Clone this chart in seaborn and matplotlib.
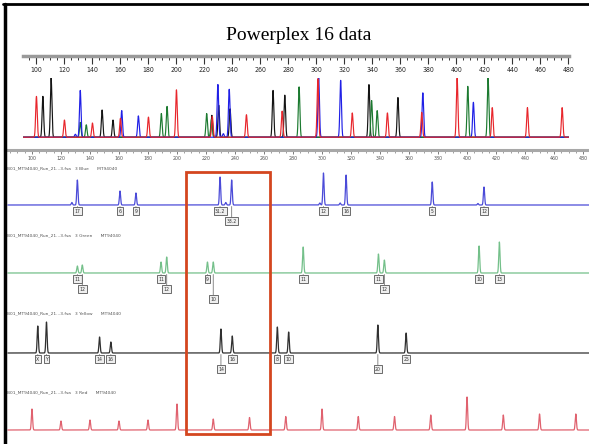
import numpy as np
import pandas as pd
import matplotlib
matplotlib.use("Agg")
import matplotlib.pyplot as plt
import seaborn as sns
from matplotlib.patches import Rectangle
from matplotlib.lines import Line2D
from matplotlib.ticker import MultipleLocator

sns.set_theme(style="white")
plt.rcParams['font.family'] = ['DejaVu Sans']

# ---------------- data ----------------
title = "Powerplex 16 data"
ruler_labels = list(range(100, 481, 20))

# top overlay panel (relative heights)
top_red_bp = [100, 120, 140, 160, 180, 200, 225.6, 250, 275.5, 301, 325.6, 350.7, 375.2, 400.5, 425.6, 450.7, 475.5]
top_red_h = [0.69, 0.29, 0.24, 0.32, 0.34, 0.80, 0.35, 0.38, 0.44, 0.99, 0.41, 0.41, 0.42, 1.0, 0.50, 0.50, 0.50]
top_black_bp = [104.6, 110.5, 146.9, 154.7, 225.3, 230.2, 238.3, 269.0, 277.4, 337.5, 358.2]
top_black_h = [0.69, 1.0, 0.46, 0.29, 0.37, 0.54, 0.48, 0.79, 0.71, 0.89, 0.67]
top_blue_bp = [127.8, 131.3, 160.9, 172.8, 229.6, 233.5, 237.7, 301.6, 317.3, 376.0, 412.1]
top_blue_h = [0.05, 0.79, 0.45, 0.36, 0.89, 0.06, 0.81, 1.0, 0.96, 0.75, 0.59]
top_green_bp = [131.3, 135.6, 189.2, 193.3, 221.6, 225.0, 287.6, 339.4, 343.4, 408.1, 422.6]
top_green_h = [0.25, 0.21, 0.40, 0.52, 0.40, 0.30, 0.85, 0.62, 0.45, 0.86, 1.0]

# bottom per-dye panels (heights in display units)
channel_names = ["Blue", "Green", "Yellow", "Red"]
sample_name = "B01_MT94040_Run_21...3.fsa"
sample_id = "MT94040"

blue_bp = [127.5, 131.3, 160.7, 171.7, 229.7, 233.6, 237.7, 298.5, 301.0, 312.5, 316.6, 376.0, 407.5, 411.7]
blue_h = [2.5, 25, 14, 12, 28, 2.5, 25, 2, 32, 2, 30, 23, 1.5, 18]
blue_allele_bp = [131.3, 160.7, 171.7, 229.7, 237.7, 301.0, 316.6, 376.0, 411.7]
blue_alleles = ["17", "6", "9", "31.2", "33.2", "12", "16", "5", "12"]
blue_rows = [0, 0, 0, 0, 1, 0, 0, 0, 0]

green_bp = [131.3, 134.7, 189.0, 192.9, 221.0, 225.0, 287.0, 338.9, 343.0, 408.3, 422.3]
green_h = [7, 8, 11, 16, 11, 11, 26, 19, 13, 27, 31]
green_allele_bp = green_bp
green_alleles = ["11", "12", "11", "12", "9", "10", "11", "11", "12", "10", "13"]
green_rows = [0, 1, 0, 1, 0, 2, 0, 0, 1, 0, 0]

black_bp = [104.0, 110.0, 146.6, 154.4, 230.3, 238.1, 269.2, 277.0, 338.5, 358.0]
black_h = [27, 31, 16, 11, 24, 17, 26, 21, 28, 20]
black_allele_bp = black_bp
black_alleles = ["X", "Y", "14", "16", "14", "16", "8", "10", "20", "25"]
black_rows = [0, 0, 0, 0, 1, 0, 0, 0, 1, 0]

red_bp = [100, 120, 140, 160, 180, 200, 225, 250, 275, 300, 325, 350, 375, 400, 425, 450, 475]
red_h = [21, 9, 10, 9, 10, 26, 11, 12.5, 13.5, 21, 13.5, 13.5, 15, 33, 15, 16, 16]

# ---------------- layout helpers ----------------
W, H = 589, 444
fig = plt.figure(figsize=(W / 100, H / 100), dpi=100)
fig.patch.set_facecolor("white")


def px_axes(x0, y0, x1, y1):
    ax = fig.add_axes([x0 / W, 1 - y1 / H, (x1 - x0) / W, (y1 - y0) / H])
    ax.set_facecolor("none")
    return ax


def trace_df(bps, hs, lo, hi, sigma):
    x = np.linspace(lo, hi, 7000)
    y = np.zeros_like(x)
    for p, h in zip(bps, hs):
        y += h * np.exp(-0.5 * ((x - p) / sigma) ** 2)
    return pd.DataFrame({"bp": x, "signal": y})


def clean(ax):
    for s in ax.spines.values():
        s.set_visible(False)
    ax.set_xticks([])
    ax.set_yticks([])
    ax.set_xlabel("")
    ax.set_ylabel("")


narrow = ["Liberation Sans Narrow", "DejaVu Sans"]

# ---------------- title ----------------
fig.text(299 / W, 1 - 35 / H, title, ha="center", va="center",
         fontsize=14, family=["Liberation Serif", "DejaVu Serif"], color="black")

# ---------------- top panel ----------------
TOP_LO, TOP_HI = 90.4, 480.4
rul = px_axes(23, 48, 569, 56)
rul.set_xlim(TOP_LO, TOP_HI)
rul.set_ylim(0, 1)
for k, s in rul.spines.items():
    s.set_visible(k == "bottom")
rul.spines["bottom"].set_color("#9a9a9a")
rul.spines["bottom"].set_linewidth(2.5)
rul.set_yticks([])
rul.set_xticks(ruler_labels)
rul.set_xticklabels([str(v) for v in ruler_labels], family=narrow, fontstretch="condensed")
rul.xaxis.set_minor_locator(MultipleLocator(5))
rul.tick_params(axis="x", which="major", bottom=True, length=5.5, width=0.8,
                color="#333", labelsize=5, pad=2.2, labelcolor="#222")
rul.tick_params(axis="x", which="minor", bottom=True, length=3, width=0.7, color="#333")

top = px_axes(23, 78, 569, 139)
top.set_xlim(TOP_LO, TOP_HI)
top.set_ylim(-0.03, 1.0)
for bps, hs, col in [(top_black_bp, top_black_h, "#151515"),
                     (top_green_bp, top_green_h, "#1c7a30"),
                     (top_blue_bp, top_blue_h, "#2020e6"),
                     (top_red_bp, top_red_h, "#e8262c")]:
    d = trace_df(bps, hs, TOP_LO, TOP_HI, 0.55)
    sns.lineplot(data=d, x="bp", y="signal", ax=top, color=col, linewidth=0.85,
                 estimator=None, sort=False)
clean(top)

# ---------------- bottom ruler ----------------
BOT_LO, BOT_HI = 81.4, 484.1
brul = px_axes(5, 143, 589, 150)
brul.set_xlim(BOT_LO, BOT_HI)
brul.set_ylim(0, 1)
for k, s in brul.spines.items():
    s.set_visible(k == "bottom")
brul.spines["bottom"].set_color("#a8a8a8")
brul.spines["bottom"].set_linewidth(2.2)
brul.set_yticks([])
brul.set_xticks(ruler_labels)
brul.set_xticklabels([str(v) for v in ruler_labels], family=narrow, fontstretch="condensed")
brul.xaxis.set_minor_locator(MultipleLocator(5))
brul.tick_params(axis="x", which="major", bottom=True, length=3, width=0.6,
                 color="#666", labelsize=3.8, pad=1.5, labelcolor="#555")
brul.tick_params(axis="x", which="minor", bottom=True, length=2, width=0.5, color="#777")

# ---------------- dye channels ----------------
baselines = [205, 273, 353, 430]
headers = [168, 235, 313, 392]
chan_cols = ["#4b4bd8", "#74c08a", "#303030", "#e0626f"]
chan_peaks = [(blue_bp, blue_h), (green_bp, green_h), (black_bp, black_h), (red_bp, red_h)]
chan_labels = [(blue_allele_bp, blue_alleles, blue_rows),
               (green_allele_bp, green_alleles, green_rows),
               (black_allele_bp, black_alleles, black_rows),
               None]
row_drop = [6, 16, 26]

for i in range(4):
    b = baselines[i]
    ax = px_axes(5, b - 40, 589, b + 10)
    ax.set_xlim(BOT_LO, BOT_HI)
    ax.set_ylim(-10, 40)
    bps, hs = chan_peaks[i]
    d = trace_df(bps, hs, BOT_LO + 2, BOT_HI, 0.42)
    sns.lineplot(data=d, x="bp", y="signal", ax=ax, color=chan_cols[i],
                 linewidth=0.9, estimator=None, sort=False)
    clean(ax)
    fig.text(7 / W, 1 - headers[i] / H,
             f"{sample_name}   3 {channel_names[i]}      {sample_id}",
             fontsize=3.2, color="#555", ha="left", va="center", family=narrow)
    if chan_labels[i] is not None:
        lb, lt, lr = chan_labels[i]
        for p, t, r in zip(lb, lt, lr):
            ax.annotate(t, xy=(p, -1.5), xytext=(p, -row_drop[r]), textcoords="data",
                        ha="center", va="center", fontsize=3.3, color="#333",
                        annotation_clip=False,
                        arrowprops=dict(arrowstyle="-", color="#777", lw=0.6,
                                        shrinkA=0, shrinkB=0),
                        bbox=dict(boxstyle="square,pad=0.3", fc="#efefef",
                                  ec="#555", lw=0.6))

# ---------------- overlays ----------------
fig.add_artist(Rectangle((186 / W, 1 - 434 / H), (270 - 186) / W, (434 - 172) / H,
                         transform=fig.transFigure, fill=False, ec="#d4461f", lw=2))
fig.add_artist(Line2D([3 / W, 1], [1 - 4.5 / H, 1 - 4.5 / H], transform=fig.transFigure,
                      color="black", lw=2))
fig.add_artist(Line2D([4.5 / W, 4.5 / W], [0, 1 - 4 / H], transform=fig.transFigure,
                      color="black", lw=2.5))

fig.savefig("out.png", dpi=100, facecolor="white")
